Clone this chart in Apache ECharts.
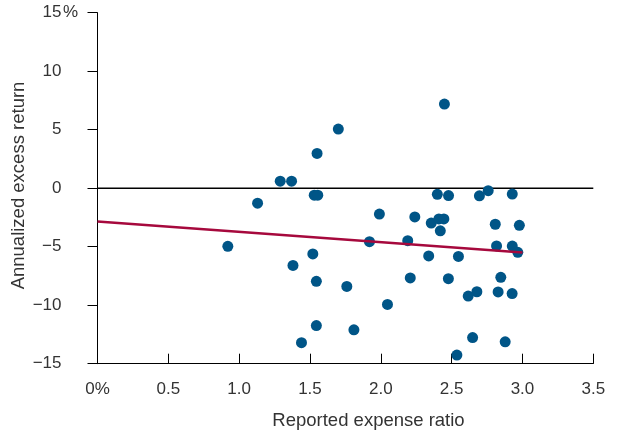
<!DOCTYPE html>
<html>
<head>
<meta charset="utf-8">
<script src="https://cdn.jsdelivr.net/npm/echarts@6/dist/echarts.min.js"></script>
<style>
html,body{margin:0;padding:0;background:#fff;}
#chart{width:618px;height:435px;}
</style>
</head>
<body>
<div id="chart"></div>
<script>
// Reported expense ratio (%) vs annualized excess return (%)
var expenseRatio = [
  0.92, 1.13, 1.29, 1.37, 1.55, 1.70, 1.53, 1.555, 1.38, 1.52,
  1.545, 1.545, 1.44, 1.76, 1.81, 1.92, 1.99, 2.24, 2.356, 2.41,
  2.445, 2.42, 2.19, 2.338, 2.548, 2.208, 2.477, 2.047, 2.617, 2.678,
  2.648, 2.537, 2.808, 2.978, 2.817, 2.928, 2.967, 2.847, 2.828, 2.927,
  2.878, 2.399, 2.478, 2.696, 2.758, 2.928, 2.449
];
var excessReturn = [
  -4.97, -1.28, 0.6, 0.6, 2.97, 5.05, -0.6, -0.6, -6.6, -5.62,
  -7.96, -11.74, -13.2, -8.4, -12.1, -4.57, -2.21, -2.46, -2.98, -2.63,
  -2.63, -3.64, -4.49, -5.79, -5.83, -7.67, -7.73, -9.93, -9.22, -8.85,
  -12.77, -14.26, -3.08, -3.17, -4.93, -4.95, -5.48, -7.62, -8.87, -9.01,
  -13.13, -0.52, -0.63, -0.65, -0.21, -0.5, 7.19
];
var trendX = [0, 3.0];
var trendY = [-2.85, -5.5];
var xTicks = [0, 0.5, 1.0, 1.5, 2.0, 2.5, 3.0, 3.5];
var yTicks = [-15, -10, -5, 0, 5, 10, 15];

var points = expenseRatio.map(function (x, i) { return [x, excessReturn[i]]; });
var trend = trendX.map(function (x, i) { return [x, trendY[i]]; });

var FONT = '"Liberation Sans", Arial, sans-serif';
var TXT = '#333';

var chart = echarts.init(document.getElementById('chart'), null, {renderer: 'canvas'});
chart.setOption({
  animation: false,
  backgroundColor: '#fff',
  grid: {left: 97.5, right: 24.7, top: 12.7, bottom: 71.3, containLabel: false},
  xAxis: {
    type: 'value', min: 0, max: 3.5, interval: 0.5,
    axisLine: {show: true, onZero: false, lineStyle: {color: '#000', width: 1}},
    axisTick: {show: true, inside: true, length: 10, lineStyle: {color: '#000', width: 1}},
    splitLine: {show: false},
    axisLabel: {
      margin: 17, fontFamily: FONT, fontSize: 17, color: TXT,
      formatter: function (v) { return v === 0 ? '0%' : v.toFixed(1); }
    }
  },
  yAxis: {
    type: 'value', min: -15, max: 15, interval: 5,
    axisLine: {show: true, onZero: false, lineStyle: {color: '#000', width: 1}},
    axisTick: {show: true, inside: false, length: 10, lineStyle: {color: '#000', width: 1}},
    splitLine: {show: false},
    axisLabel: {
      margin: 18, fontFamily: FONT, fontSize: 17, color: TXT,
      formatter: function (v) {
        var s = v < 0 ? '\u2212' + Math.abs(v) : String(v);
        return v === yTicks[yTicks.length - 1] ? s + '{p|%}' : s + '{p|}';
      },
      rich: {p: {width: 18, fontFamily: FONT, fontSize: 17, color: TXT, align: 'left'}}
    }
  },
  series: [
    {
      type: 'line', data: [[0, 0], [3.5, 0]], symbol: 'none', silent: true,
      lineStyle: {color: '#000', width: 1.5}, z: 1
    },
    {
      type: 'scatter', data: points, symbol: 'circle', symbolSize: 11,
      itemStyle: {color: '#005587', opacity: 1}, z: 3
    },
    {
      type: 'line', data: trend, symbol: 'none', silent: true,
      lineStyle: {color: '#a6093d', width: 2.5}, z: 4
    }
  ],
  graphic: [
    {
      type: 'text', x: 368.5, y: 421,
      style: {text: 'Reported expense ratio', fontFamily: FONT, fontSize: 18.5, fill: TXT,
              textAlign: 'center', textVerticalAlign: 'middle'}
    },
    {
      type: 'text', x: 18.5, y: 185.5, rotation: Math.PI / 2,
      style: {text: 'Annualized excess return', fontFamily: FONT, fontSize: 18.5, fill: TXT,
              textAlign: 'center', textVerticalAlign: 'middle'}
    }
  ]
});
</script>
</body>
</html>
